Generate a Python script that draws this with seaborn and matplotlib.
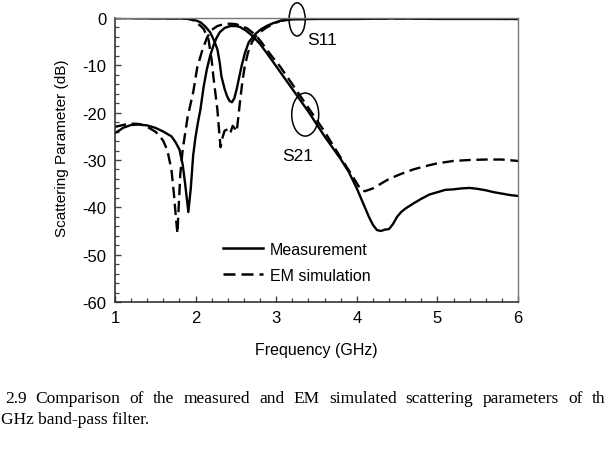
import pandas as pd
import seaborn as sns
import matplotlib.pyplot as plt
from matplotlib.patches import Ellipse
from matplotlib.ticker import MultipleLocator

plt.rcParams['font.family'] = ['Liberation Sans', 'DejaVu Sans']
plt.rcParams['axes.unicode_minus'] = False

# S21 medido
measS21Freq = [1.0, 1.05, 1.1, 1.2, 1.3, 1.4, 1.5, 1.6, 1.7, 1.75, 1.8, 1.84, 1.87, 1.91, 1.94,
               1.97, 2.0, 2.03, 2.06, 2.1, 2.14, 2.18, 2.22, 2.26, 2.3, 2.36, 2.43, 2.5, 2.55,
               2.62, 2.68, 2.74, 2.8, 2.9, 3.0, 3.1, 3.2, 3.3, 3.4, 3.5, 3.6, 3.7, 3.8, 3.9,
               4.0, 4.05, 4.1, 4.15, 4.2, 4.25, 4.3, 4.35, 4.4, 4.45, 4.5, 4.55, 4.6, 4.7,
               4.8, 4.9, 5.0, 5.1, 5.2, 5.3, 5.4, 5.5, 5.6, 5.7, 5.8, 5.9, 6.0]
measS21dB = [-24.3, -23.8, -23.2, -22.6, -22.5, -22.7, -23.2, -24.0, -25.0, -26.2, -27.8, -31.0,
             -35.0, -41.0, -36.0, -29.0, -25.0, -22.0, -19.3, -14.5, -10.8, -8.0, -5.9, -4.2,
             -3.0, -2.1, -1.7, -1.7, -1.9, -2.6, -3.4, -4.4, -5.5, -7.8, -10.2, -12.6, -15.0,
             -17.4, -19.8, -22.4, -25.0, -27.4, -29.8, -32.5, -36.0, -38.0, -40.0, -42.0,
             -43.7, -44.8, -45.0, -44.7, -44.6, -43.5, -42.0, -41.0, -40.3, -39.2, -38.2,
             -37.3, -36.8, -36.3, -36.2, -36.0, -35.9, -36.1, -36.4, -36.8, -37.1, -37.4, -37.6]

# S21 simulado
simS21Freq = [1.0, 1.1, 1.2, 1.3, 1.4, 1.5, 1.55, 1.6, 1.65, 1.7, 1.73, 1.76, 1.775, 1.79,
              1.81, 1.84, 1.9, 1.97, 2.02, 2.08, 2.14, 2.2, 2.27, 2.35, 2.43, 2.5, 2.57, 2.64,
              2.7, 2.76, 2.82, 2.88, 2.96, 3.05, 3.2, 3.4, 3.6, 3.8, 3.95, 4.05, 4.1, 4.2,
              4.3, 4.4, 4.54, 4.7, 4.85, 5.0, 5.2, 5.4, 5.6, 5.8, 6.0]
simS21dB = [-23.0, -22.6, -22.3, -22.4, -23.0, -24.0, -24.8, -26.0, -28.0, -32.0, -37.0, -43.0,
            -45.5, -40.0, -33.0, -27.8, -21.0, -15.7, -10.5, -7.0, -4.2, -2.5, -1.7, -1.3,
            -1.2, -1.3, -1.7, -2.2, -3.0, -3.9, -5.2, -6.6, -8.4, -10.3, -14.0, -19.0, -24.0,
            -29.5, -33.5, -36.3, -36.6, -36.0, -35.0, -34.0, -33.0, -32.0, -31.3, -30.7,
            -30.2, -30.0, -29.9, -29.9, -30.2]

# S11 medido
measS11Freq = [1.0, 1.5, 1.8, 1.9, 2.0, 2.06, 2.12, 2.18, 2.23, 2.27, 2.3, 2.32, 2.36, 2.39,
               2.42, 2.45, 2.48, 2.51, 2.54, 2.57, 2.61, 2.66, 2.74, 2.81, 2.88, 2.96, 3.05,
               3.2, 3.5, 4.0, 4.5, 5.0, 5.5, 6.0]
measS11dB = [0.0, -0.1, -0.1, -0.2, -0.5, -0.9, -1.8, -3.0, -4.8, -6.6, -9.5, -12.3, -15.0,
             -16.5, -17.5, -17.8, -17.0, -15.0, -12.6, -10.2, -7.5, -5.1, -3.4, -2.4, -1.7,
             -1.1, -0.6, -0.3, -0.2, -0.2, -0.1, -0.2, -0.2, -0.2]

# S11 simulado
simS11Freq = [1.0, 1.5, 1.9, 1.95, 2.0, 2.05, 2.1, 2.16, 2.2, 2.22, 2.25, 2.27, 2.29, 2.31,
              2.33, 2.36, 2.4, 2.43, 2.46, 2.48, 2.51, 2.53, 2.55, 2.58, 2.61, 2.65, 2.7,
              2.75, 2.8, 2.88, 2.96, 3.05, 3.17, 3.3, 4.0, 5.0, 6.0]
simS11dB = [0.0, 0.0, -0.1, -0.3, -0.8, -1.5, -2.3, -4.5, -9.0, -12.3, -16.5, -19.3, -23.5,
            -27.3, -25.5, -23.8, -23.5, -24.3, -22.8, -23.2, -24.0, -21.0, -17.8, -13.5,
            -10.2, -7.3, -5.1, -3.8, -3.0, -2.0, -1.3, -0.6, -0.2, -0.1, -0.1, -0.1, -0.2]

series = [
    ('Measurement', 'S21', measS21Freq, measS21dB),
    ('EM simulation', 'S21', simS21Freq, simS21dB),
    ('Measurement', 'S11', measS11Freq, measS11dB),
    ('EM simulation', 'S11', simS11Freq, simS11dB),
]
df = pd.concat([pd.DataFrame({'freq': f, 'db': v, 'source': src, 'param': par})
                for src, par, f, v in series], ignore_index=True)

fig = plt.figure(figsize=(6.06, 4.77), dpi=100)
ax = fig.add_axes([115 / 606, 1 - 303 / 477, 403 / 606, 284 / 477])

sns.lineplot(data=df, x='freq', y='db', style='source', units='param', estimator=None,
             style_order=['Measurement', 'EM simulation'],
             dashes={'Measurement': '', 'EM simulation': (4.8, 2.4)},
             color='black', linewidth=1.7, sort=False, ax=ax)

ax.set_xlim(1, 6)
ax.set_ylim(-60, 0)
ax.xaxis.set_major_locator(MultipleLocator(1))
ax.xaxis.set_minor_locator(MultipleLocator(0.2))
ax.yaxis.set_major_locator(MultipleLocator(10))
ax.yaxis.set_minor_locator(MultipleLocator(2))
ax.tick_params(which='both', direction='in', top=False, right=False, colors='#444',
               labelcolor='black', labelsize=12)
ax.tick_params(which='major', length=4, width=1, pad=6)
ax.tick_params(which='minor', length=3, width=0.9)
for s in ['left', 'bottom']:
    ax.spines[s].set_color('#333')
    ax.spines[s].set_linewidth(1.2)
for s in ['top', 'right']:
    ax.spines[s].set_color('#777')
    ax.spines[s].set_linewidth(1.0)

ax.set_xlabel('')
ax.set_ylabel('')
fig.text(316 / 606, 1 - 350 / 477, 'Frequency (GHz)', ha='center', va='center', fontsize=11.5)
fig.text(62 / 606, 1 - 148 / 477, 'Scattering Parameter (dB)', ha='center', va='center',
         rotation=90, fontsize=11)

# legenda
handles, labels = ax.get_legend_handles_labels()
for h in handles:
    h.set_color('black')
    h.set_linewidth(1.8)
ax.legend(handles, labels, loc='center left', bbox_to_anchor=(0.268, 0.14), frameon=False,
          fontsize=11.5, handlelength=2.5, handletextpad=0.45, labelspacing=0.7,
          borderpad=0, borderaxespad=0)

# anotações S11 / S21
ax.add_patch(Ellipse((3.26, -0.3), 0.2, 7.0, fill=False, color='black', lw=1.1, clip_on=False))
ax.add_patch(Ellipse((3.36, -20.4), 0.335, 9.1, fill=False, color='black', lw=1.1))
ax.text(3.57, -4.6, 'S11', ha='center', va='center', fontsize=12.5)
ax.text(3.27, -29.0, 'S21', ha='center', va='center', fontsize=12.5)

# legenda da figura: primeira linha justificada entre x=5 e x=605 px
serif = ['Liberation Serif', 'DejaVu Serif']
words = ['2.9', 'Comparison', 'of', 'the', 'measured', 'and', 'EM', 'simulated',
         'scattering', 'parameters', 'of', 'th']
texts = [fig.text(0, 1 - 403 / 477, w, ha='left', va='baseline', fontsize=12.5, family=serif)
         for w in words]
renderer = fig.canvas.get_renderer()
widths = [t.get_window_extent(renderer).width for t in texts]
gap = (605 - 5 - sum(widths)) / (len(words) - 1)
x = 5
for t, w in zip(texts, widths):
    t.set_x(x / 606)
    x += w + gap
fig.text(1 / 606, 1 - 424 / 477, 'GHz band-pass filter.', ha='left', va='baseline',
         fontsize=12.5, family=serif)

fig.savefig('out.png', dpi=100)
